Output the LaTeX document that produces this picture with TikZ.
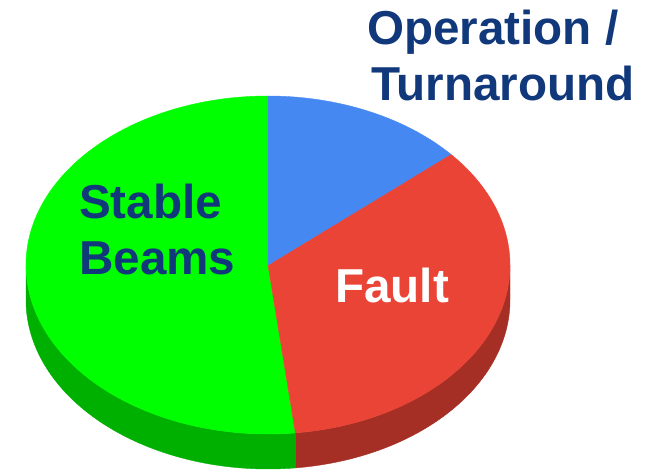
\documentclass[tikz,border=0pt]{standalone}
\usepackage{fontspec}
\setmainfont{Liberation Sans}
\usetikzlibrary{calc}
\definecolor{gtop}{RGB}{0,255,0}
\definecolor{gside}{RGB}{0,176,0}
\definecolor{btop}{RGB}{70,136,241}
\definecolor{rtop}{RGB}{234,68,54}
\definecolor{rside}{RGB}{165,46,37}
\definecolor{lbl}{RGB}{17,56,122}
\begin{document}
\begin{tikzpicture}[x=1pt,y=1pt,
  lab/.style={font=\fontsize{47.6}{56}\selectfont\bfseries, inner sep=0pt, align=left, anchor=base west},
  slice/.style={line width=0.4pt, line join=round}]
\useasboundingbox (0,0) rectangle (661,472);
\def\rx{242}\def\ry{169}\def\dd{35}
\coordinate (C) at (268,207);
% sides
\path[slice, fill=rside, draw=rside] ($(C)+(-83.5:\rx pt and \ry pt)$) arc[start angle=-83.5, end angle=0, x radius=\rx, y radius=\ry]
  -- ++(0,-\dd) arc[start angle=0, end angle=-83.5, x radius=\rx, y radius=\ry] -- cycle;
\path[slice, fill=gside, draw=gside] ($(C)+(180:\rx pt and \ry pt)$) arc[start angle=180, end angle=276.5, x radius=\rx, y radius=\ry]
  -- ++(0,-\dd) arc[start angle=276.5, end angle=180, x radius=\rx, y radius=\ry] -- cycle;
% top
\path[slice, fill=gtop, draw=gtop] (C) -- ($(C)+(90:\rx pt and \ry pt)$) arc[start angle=90, end angle=276.5, x radius=\rx, y radius=\ry] -- cycle;
\path[slice, fill=rtop, draw=rtop] (C) -- ($(C)+(-83.5:\rx pt and \ry pt)$) arc[start angle=-83.5, end angle=41, x radius=\rx, y radius=\ry] -- cycle;
\path[slice, fill=btop, draw=btop] (C) -- ($(C)+(41:\rx pt and \ry pt)$) arc[start angle=41, end angle=90, x radius=\rx, y radius=\ry] -- cycle;
% labels
\node[lab, text=lbl] (op) at (371,371) {\hspace*{-4pt}Operation /\\Turnaround};
\node[lab, text=lbl] (sb) at (79,198) {Stable\\Beams};
\node[lab, text=white] (fa) at (335,170) {Fault};
\end{tikzpicture}
\end{document}
